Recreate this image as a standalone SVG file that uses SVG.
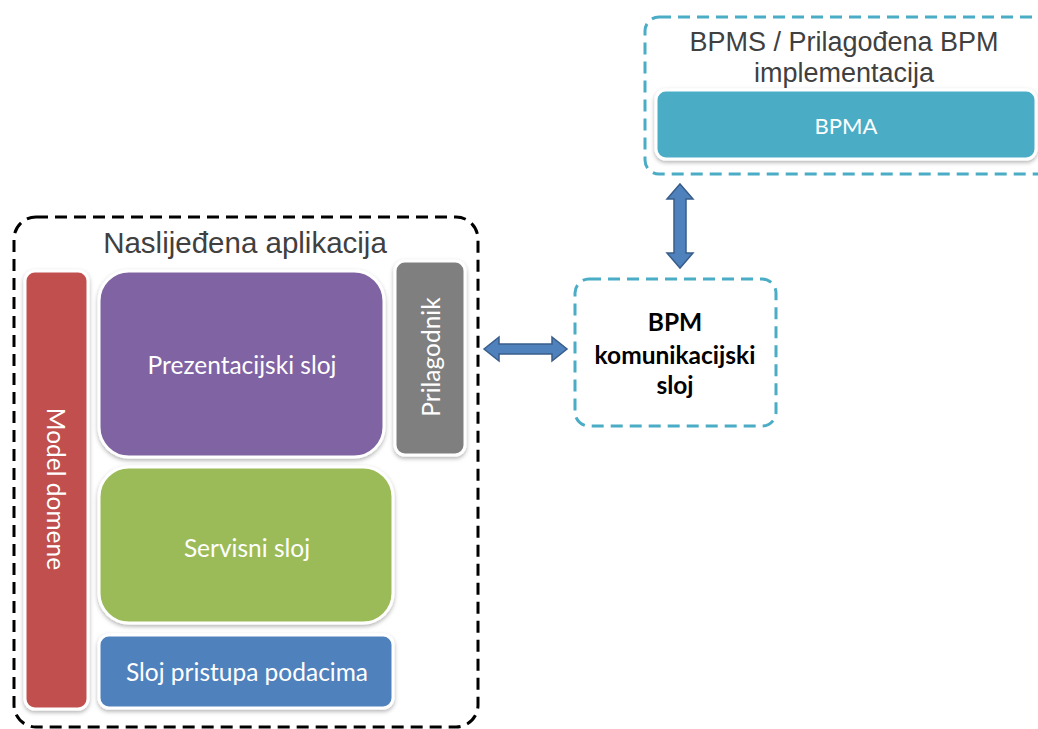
<svg xmlns="http://www.w3.org/2000/svg" width="1038" height="729" viewBox="0 0 1038 729">
<defs>
<filter id="sh" x="-10%" y="-10%" width="120%" height="130%">
<feDropShadow dx="0" dy="2" stdDeviation="2" flood-color="#000" flood-opacity="0.3"/>
</filter>
</defs>
<style>
.lbl{font-family:Lato,"Open Sans","Liberation Sans",sans-serif;font-size:24.5px;fill:#fff;text-anchor:middle;dominant-baseline:central}
.ttl{font-family:"Liberation Sans",Arial,sans-serif;font-size:27px;fill:#404040;text-anchor:middle}
.box{stroke:#fff;stroke-width:3;filter:url(#sh)}
.dashk{fill:none;stroke:#000;stroke-width:3;stroke-dasharray:12 7}
.dashc{fill:none;stroke:#4bacc6;stroke-width:3;stroke-dasharray:12 7}
.arr{fill:#4f81bd;stroke:#385d8a;stroke-width:1.5}
.bold{font-family:Lato,"Open Sans","Liberation Sans",sans-serif;font-size:24.5px;font-weight:bold;fill:#000;text-anchor:middle}
</style>
<g id="legacy">
<rect class="dashk" x="14" y="217" width="464" height="510" rx="22"/>
<text class="ttl" x="245" y="253" style="font-size:29.5px">Naslijeđena aplikacija</text>
</g>
<g id="model-domene">
<rect class="box" x="25" y="271" width="63" height="438" rx="10" fill="#c0504d"/>
<text class="lbl" transform="translate(56,489) rotate(90)">Model domene</text>
</g>
<g id="prezentacijski">
<rect class="box" x="99" y="271" width="285" height="186" rx="30" fill="#8064a2"/>
<text class="lbl" x="242" y="364">Prezentacijski sloj</text>
</g>
<g id="prilagodnik">
<rect class="box" x="395" y="261" width="70" height="194" rx="10" fill="#7f7f7f"/>
<text class="lbl" transform="translate(430,357) rotate(-90)">Prilagodnik</text>
</g>
<g id="servisni">
<rect class="box" x="99" y="467" width="294" height="156" rx="30" fill="#9bbb59"/>
<text class="lbl" x="247" y="547">Servisni sloj</text>
</g>
<g id="pristup">
<rect class="box" x="99" y="635" width="294" height="73" rx="10" fill="#4f81bd"/>
<text class="lbl" x="247" y="671">Sloj pristupa podacima</text>
</g>
<g id="bpms">
<rect class="dashc" x="645" y="17" width="410" height="157" rx="14"/>
<text class="ttl" x="844" y="51">BPMS / Prilagođena BPM</text>
<text class="ttl" x="844" y="82">implementacija</text>
</g>
<g id="bpma">
<rect class="box" x="656" y="90" width="380" height="69" rx="10" fill="#4bacc6"/>
<text class="lbl" x="846" y="125" style="font-size:22px">BPMA</text>
</g>
<g id="bpm-kom">
<rect class="dashc" x="575" y="279" width="201" height="147" rx="14"/>
<text class="bold" x="675" y="331">BPM</text>
<text class="bold" x="675" y="364">komunikacijski</text>
<text class="bold" x="675" y="394">sloj</text>
</g>
<g id="connectors">
<path class="arr" d="M680,184 L693,199 L686,199 L686,253 L693,253 L680,268 L667,253 L674,253 L674,199 L667,199 Z"/>
<path class="arr" d="M484,349 L499,337 L499,344 L552,344 L552,337 L567,349 L552,361 L552,354 L499,354 L499,361 Z"/>
</g>
</svg>
